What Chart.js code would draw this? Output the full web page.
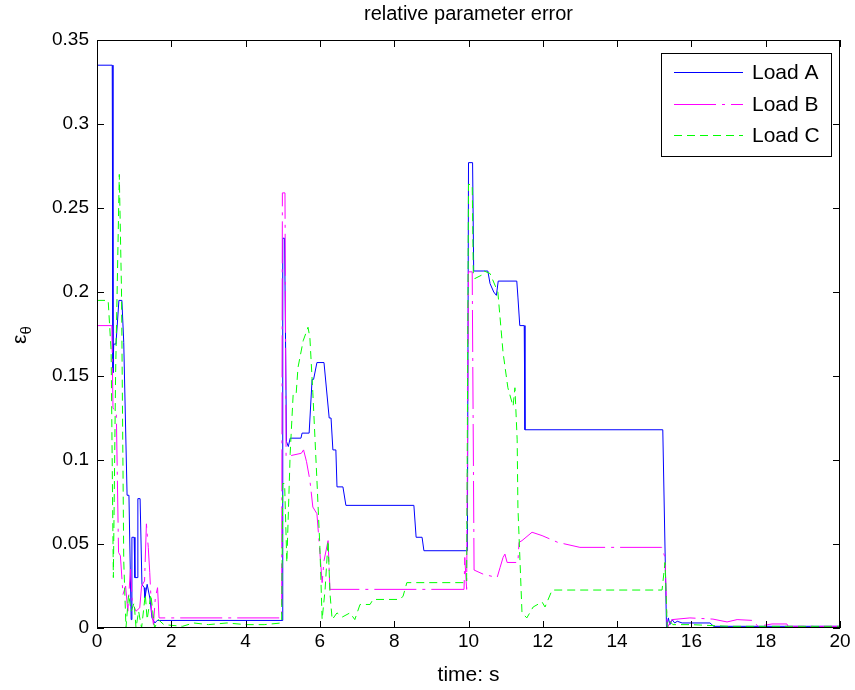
<!DOCTYPE html>
<html>
<head>
<meta charset="utf-8">
<script src="https://cdn.jsdelivr.net/npm/chart.js@4.4.1/dist/chart.umd.min.js"></script>
<style>
  body { margin: 0; background: #fff; }
  #wrap { width: 855px; height: 690px; }
</style>
</head>
<body>
<div id="wrap"><canvas id="errChart"></canvas></div>
<script>
// [time (s), relative error]
const loadA = [
  [0, 0.335], [0.41, 0.335], [0.43, 0.152], [0.45, 0.169], [0.51, 0.169], [0.59, 0.195],
  [0.67, 0.195], [0.72, 0.17], [0.81, 0.079], [0.86, 0.079], [0.92, 0.005], [0.94, 0.054],
  [1.0, 0.054], [1.02, 0.03], [1.08, 0.03], [1.10, 0.077], [1.16, 0.077], [1.21, 0.026],
  [1.27, 0.024], [1.29, 0.018], [1.35, 0.026], [1.43, 0.017], [1.48, 0.006], [1.56, 0.003],
  [1.62, 0.0045], [4.98, 0.0045], [5.0, 0.232], [5.05, 0.232], [5.1, 0.111], [5.15, 0.108],
  [5.2, 0.113], [5.49, 0.113], [5.52, 0.116], [5.71, 0.116], [5.79, 0.148], [5.83, 0.148],
  [5.92, 0.158], [6.11, 0.158], [6.25, 0.125], [6.30, 0.125], [6.35, 0.106], [6.43, 0.106],
  [6.46, 0.084], [6.62, 0.084], [6.70, 0.073], [8.53, 0.073], [8.59, 0.054], [8.75, 0.054],
  [8.80, 0.046], [9.97, 0.046], [10.0, 0.277], [10.11, 0.277], [10.14, 0.2125], [10.52, 0.2125],
  [10.58, 0.205], [10.68, 0.2], [10.75, 0.198], [10.8, 0.2065], [11.3, 0.2065], [11.33, 0.197],
  [11.38, 0.18], [11.5, 0.18], [11.52, 0.118], [15.23, 0.118], [15.33, 0.0], [15.38, 0.006],
  [15.42, 0.002], [15.48, 0.005], [15.55, 0.003], [15.62, 0.004], [15.75, 0.003], [16.5, 0.003],
  [16.6, 0.001], [20, 0.001]
];

const loadB = [
  [0, 0.18], [0.40, 0.18], [0.43, 0.131], [0.52, 0.128], [0.58, 0.045], [0.63, 0.043],
  [0.70, 0.02], [0.77, 0.025], [0.83, 0.01], [0.9, 0.035], [0.95, 0.015], [1.05, 0.01],
  [1.15, 0.012], [1.2, 0.025], [1.28, 0.028], [1.33, 0.062], [1.38, 0.048], [1.42, 0.033],
  [1.47, 0.01], [1.52, 0.002], [1.57, 0.018], [1.63, 0.024], [1.67, 0.006], [4.97, 0.006],
  [4.99, 0.259], [5.06, 0.259], [5.09, 0.102], [5.5, 0.104], [5.56, 0.106], [5.64, 0.099],
  [5.73, 0.088], [5.81, 0.072], [5.92, 0.068], [6.0, 0.045], [6.06, 0.027], [6.11, 0.04],
  [6.22, 0.052], [6.27, 0.023], [9.88, 0.023], [9.9, 0.042], [9.95, 0.023], [10.0, 0.212],
  [10.1, 0.212], [10.15, 0.0345], [10.4, 0.032], [10.77, 0.03], [10.85, 0.036], [10.93, 0.042],
  [10.98, 0.044], [11.04, 0.039], [11.33, 0.039], [11.36, 0.051], [11.44, 0.052], [11.71, 0.057],
  [11.98, 0.055], [12.4, 0.051], [13.0, 0.048], [15.2, 0.048], [15.29, 0.042], [15.35, 0.0],
  [15.42, 0.003], [15.48, 0.005], [15.96, 0.006], [16.58, 0.0053], [16.96, 0.0036], [17.23, 0.005],
  [17.66, 0.0045], [17.79, 0.001], [18.17, 0.0024], [18.57, 0.0024], [18.6, 0.001], [20, 0.001]
];

const loadC = [
  [0, 0.195], [0.30, 0.195], [0.38, 0.165], [0.44, 0.03], [0.5, 0.15], [0.6, 0.27],
  [0.66, 0.2], [0.72, 0.04], [0.78, 0.0], [0.85, 0.02], [0.92, 0.01], [1.0, 0.015],
  [1.05, 0.0], [1.12, 0.01], [1.2, 0.0], [1.3, 0.02], [1.35, 0.005], [1.45, 0.02],
  [1.5, 0.01], [1.55, 0.0], [1.65, 0.005], [1.8, 0.002], [2.3, 0.001], [2.6, 0.003],
  [3.0, 0.002], [3.5, 0.003], [4.0, 0.002], [4.5, 0.002], [4.97, 0.003], [5.0, 0.086],
  [5.05, 0.086], [5.11, 0.039], [5.2, 0.104], [5.28, 0.139], [5.36, 0.139], [5.41, 0.155],
  [5.55, 0.171], [5.68, 0.179], [5.73, 0.173], [5.81, 0.14], [5.92, 0.088], [6.0, 0.048],
  [6.06, 0.005], [6.14, 0.023], [6.22, 0.052], [6.27, 0.021], [6.33, 0.005], [6.46, 0.009],
  [6.6, 0.0065], [6.81, 0.009], [6.94, 0.005], [7.08, 0.014], [7.35, 0.014], [7.43, 0.017],
  [8.16, 0.017], [8.24, 0.019], [8.34, 0.027], [9.95, 0.027], [10.0, 0.264], [10.1, 0.264],
  [10.13, 0.211], [10.17, 0.208], [10.35, 0.21], [10.42, 0.2125], [10.58, 0.211], [10.79, 0.2],
  [10.93, 0.164], [11.06, 0.143], [11.2, 0.132], [11.25, 0.143], [11.31, 0.112], [11.33, 0.072],
  [11.44, 0.009], [11.57, 0.006], [11.74, 0.0125], [11.98, 0.0155], [12.06, 0.0125], [12.25, 0.0226],
  [15.21, 0.0226], [15.29, 0.039], [15.35, 0.0], [15.42, 0.004], [15.5, 0.002], [16.0, 0.002],
  [17.0, 0.001], [20, 0.001]
];

const seriesNames = ["Load A", "Load B", "Load C"];
const xTicks = [0, 2, 4, 6, 8, 10, 12, 14, 16, 18, 20];
const yTicks = [0, 0.05, 0.1, 0.15, 0.2, 0.25, 0.3, 0.35];

const FONT = "'Liberation Sans', Arial, sans-serif";
const styles = [
  { color: "#0000ff", dash: [] },
  { color: "#ff00ff", dash: [42, 6, 3, 6] },
  { color: "#00ff00", dash: [8, 5] }
];

const toPts = arr => arr.map(p => ({ x: p[0], y: p[1] }));

// axes box, inward ticks, labels and legend in the matlab look
const matlabFrame = {
  id: "matlabFrame",
  afterDraw(chart) {
    const c = chart.ctx;
    const a = chart.chartArea;
    const xs = chart.scales.x, ys = chart.scales.y;
    c.save();
    c.strokeStyle = "#000";
    c.lineWidth = 1;
    c.setLineDash([]);
    c.strokeRect(a.left + 0.5, a.top + 0.5, a.right - a.left - 1, a.bottom - a.top - 1);
    c.beginPath();
    xTicks.forEach(t => {
      const px = Math.round(xs.getPixelForValue(t)) + 0.5;
      c.moveTo(px, a.bottom); c.lineTo(px, a.bottom - 7);
      c.moveTo(px, a.top); c.lineTo(px, a.top + 7);
    });
    yTicks.forEach(t => {
      const py = Math.round(ys.getPixelForValue(t)) + 0.5;
      c.moveTo(a.left, py); c.lineTo(a.left + 7, py);
      c.moveTo(a.right, py); c.lineTo(a.right - 7, py);
    });
    c.stroke();

    // title and axis labels
    const cx = (a.left + a.right) / 2;
    c.fillStyle = "#000";
    c.textAlign = "center";
    c.textBaseline = "middle";
    c.font = "20px " + FONT;
    c.fillText("relative parameter error", cx, 14);
    c.font = "21px " + FONT;
    c.fillText("time: s", cx, 675);

    c.save();
    c.translate(20, (a.top + a.bottom) / 2);
    c.rotate(-Math.PI / 2);
    c.textAlign = "left";
    c.font = "21px " + FONT;
    c.fillText("ε", -10, 0);
    c.font = "15px " + FONT;
    c.fillText("θ", -0.5, 7);
    c.restore();

    // legend
    const bx = a.right - 179, by = a.top + 13, bw = 170, bh = 103;
    c.fillStyle = "#fff";
    c.fillRect(bx, by, bw, bh);
    c.strokeRect(bx + 0.5, by + 0.5, bw, bh);
    seriesNames.forEach((name, i) => {
      const ly = Math.round(by + 19 + i * 31.5) + 0.5;
      c.strokeStyle = styles[i].color;
      c.setLineDash(styles[i].dash);
      c.beginPath();
      c.moveTo(bx + 13, ly); c.lineTo(bx + 82, ly);
      c.stroke();
      c.setLineDash([]);
      c.fillStyle = "#000";
      c.font = "21px " + FONT;
      c.textAlign = "left";
      c.fillText(name, bx + 91, ly + 1);
    });
    c.restore();
  }
};

const ctx = document.getElementById("errChart").getContext("2d");
new Chart(ctx, {
  type: "line",
  data: {
    datasets: [loadA, loadB, loadC].map((d, i) => ({
      label: seriesNames[i],
      data: toPts(d),
      borderColor: styles[i].color,
      borderDash: styles[i].dash,
      borderWidth: 1,
      pointRadius: 0,
      tension: 0,
      fill: false,
      order: 3 - i
    }))
  },
  options: {
    responsive: true,
    maintainAspectRatio: false,
    animation: false,
    layout: { padding: { top: 40, right: 15, left: 0, bottom: 0 } },
    plugins: {
      legend: { display: false },
      title: { display: false },
      tooltip: { enabled: false }
    },
    scales: {
      x: {
        type: "linear",
        min: 0,
        max: 20,
        afterBuildTicks: s => { s.ticks = xTicks.map(v => ({ value: v })); },
        afterFit: s => { s.height = 62; },
        grid: { display: false, drawTicks: false },
        border: { display: false },
        ticks: { color: "#000", font: { family: FONT, size: 19 }, padding: 2, maxRotation: 0 }
      },
      y: {
        min: 0,
        max: 0.35,
        afterBuildTicks: s => { s.ticks = yTicks.map(v => ({ value: v })); },
        afterFit: s => { s.width = 97; },
        grid: { display: false, drawTicks: false },
        border: { display: false },
        ticks: {
          color: "#000",
          font: { family: FONT, size: 19 },
          padding: 8,
          callback: v => String(+v.toFixed(2))
        }
      }
    }
  },
  plugins: [matlabFrame]
});
</script>
</body>
</html>
